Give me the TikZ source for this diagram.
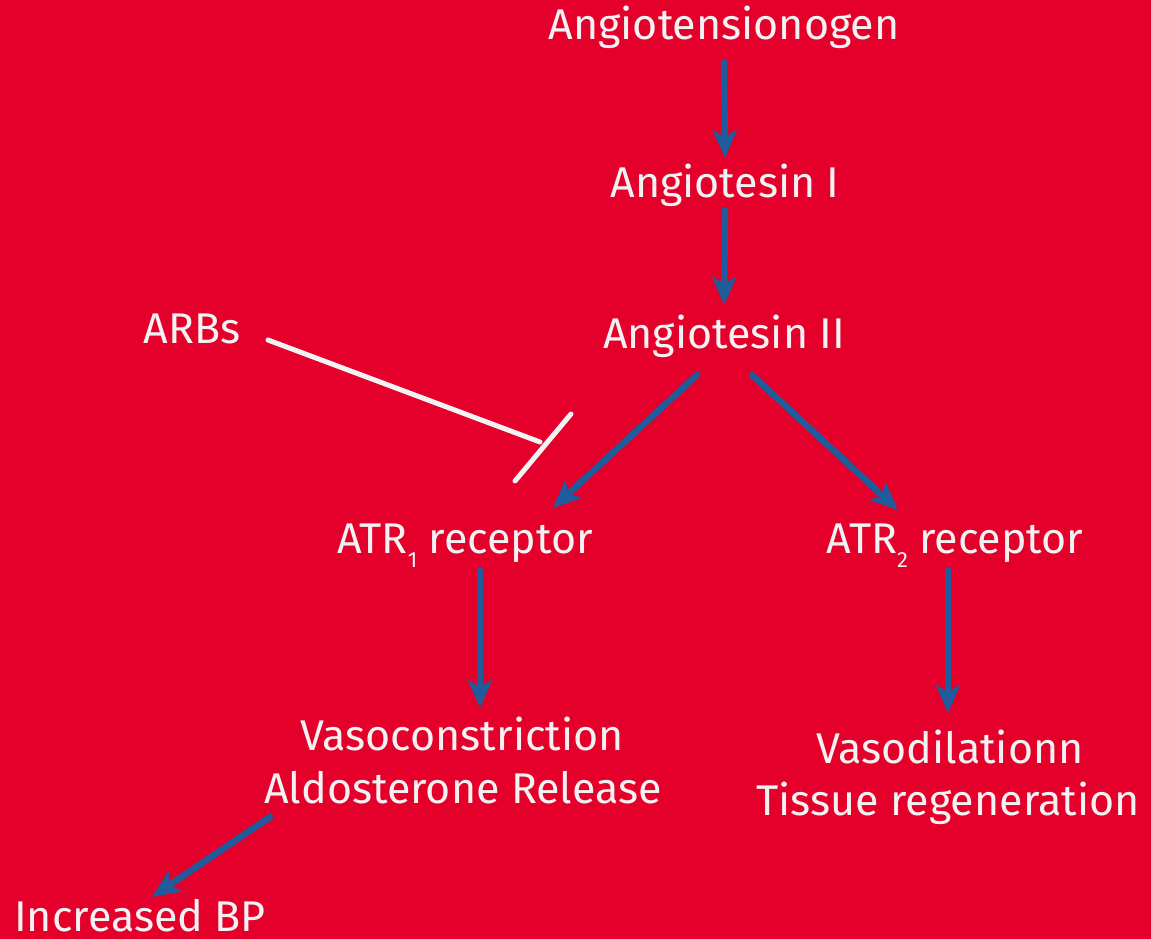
\documentclass[tikz,border=0pt]{standalone}
\usepackage{fontspec}
\setmainfont{Fira Sans}
\usetikzlibrary{arrows.meta,calc}
\definecolor{bgred}{HTML}{E4002B}
\definecolor{arrblue}{HTML}{1F5C9B}
\definecolor{txtwhite}{HTML}{F2F2F2}
\newcommand{\subsc}[1]{\raisebox{-14pt}{\fontsize{22}{22}\selectfont #1}}
\tikzset{
  lbl/.style={text=txtwhite, inner sep=0pt, font=\fontsize{43}{53}\selectfont, anchor=base},
  arr/.style={draw=arrblue, line width=6.5pt, line cap=round, -{Stealth[length=28pt,width=24pt,inset=7pt]}},
  blocker/.style={draw=txtwhite, line width=5pt, line cap=round}
}
\begin{document}
\begin{tikzpicture}[x=1pt,y=-1pt]
\fill[bgred] (0,0) rectangle (1151,939);
\useasboundingbox (0,0) rectangle (1151,939);
\node[lbl] (a0) at (724,40) {Angiotensionogen};
\node[lbl] (a1) at (725,197) {Angiotesin I};
\node[lbl] (a2) at (724,348) {Angiotesin II};
\node[lbl] (arbs) at (192,343) {ARBs};
\node[lbl] (t1) at (465,553) {ATR\subsc{1} receptor};
\node[lbl] (t2) at (955,553) {ATR\subsc{2} receptor};
\node[lbl] (vc1) at (462,750) {Vasoconstriction};
\node[lbl] (vc2) at (463,803) {Aldosterone Release};
\node[lbl] (vd1) at (950,763) {Vasodilationn};
\node[lbl] (vd2) at (948,815) {Tissue regeneration};
\node[lbl] (bp) at (140,931) {Increased BP};
% arrows
\draw[arr] ($(a0.base)+(0,22)$) -- ($(a1.base)+(0,-39)$);
\draw[arr] ($(a1.base)+(0,13)$) -- ($(a2.base)+(0,-43)$);
\draw[arr] ($(a2.base)+(-27,27)$) -- ($(t1.base)+(88,-45)$);
\draw[arr] ($(a2.base)+(28,27)$) -- ($(t2.base)+(-57,-43)$);
\draw[arr] ($(t1.base)+(15,17)$) -- ($(vc1.base)+(18,-42)$);
\draw[arr] ($(t2.base)+(-7,17)$) -- ($(vd1.base)+(-2,-50)$);
\draw[arr] ($(vc2.base)+(-193,14)$) -- ($(bp.base)+(12,-34)$);
% ARB inhibition
\coordinate (bar) at (540,442);
\draw[blocker] ($(arbs.base)+(76,-3)$) -- (bar);
\draw[blocker] (571,414) -- (515,481);
\end{tikzpicture}
\end{document}
